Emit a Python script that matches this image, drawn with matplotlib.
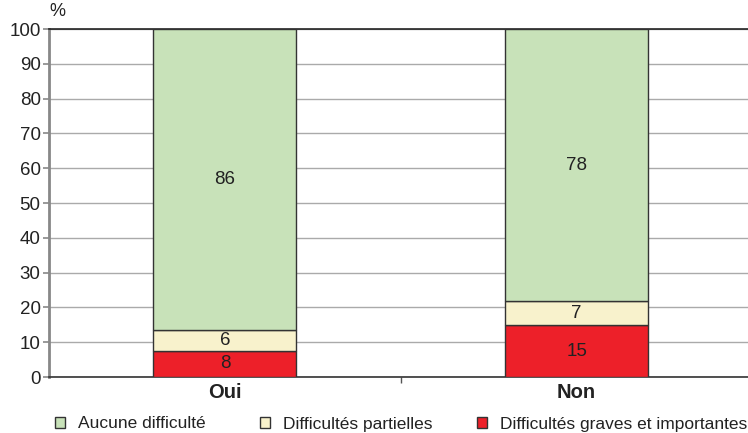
import matplotlib.pyplot as plt
from matplotlib.patches import Patch
import numpy as np

plt.rcParams['font.family'] = ['Liberation Sans', 'DejaVu Sans']

# data
categories = ['Oui', 'Non']
series_names = ['Aucune difficulté', 'Difficultés partielles', 'Difficultés graves et importantes']
graves = [7.5, 14.8]
partielles = [6.0, 7.0]
aucune = [86.5, 78.2]
graves_labels = ['8', '15']
partielles_labels = ['6', '7']
aucune_labels = ['86', '78']

col_green = '#c8e2b9'
col_yellow = '#f8f2cc'
col_red = '#ed2029'
edge = '#333333'

fig = plt.figure(figsize=(7.48, 4.33), dpi=100)
ax = fig.add_axes([49 / 748, 1 - 377 / 433, (752.5 - 49) / 748, 348 / 433])

x = np.arange(len(categories))
w = 0.406
b1 = ax.bar(x, graves, w, color=col_red, edgecolor=edge, linewidth=1.0, zorder=3)
b2 = ax.bar(x, partielles, w, bottom=graves, color=col_yellow, edgecolor=edge, linewidth=1.0, zorder=3)
bottom3 = np.array(graves) + np.array(partielles)
b3 = ax.bar(x, aucune, w, bottom=bottom3, color=col_green, edgecolor=edge, linewidth=1.0, zorder=3)

for bars, labels in [(b1, graves_labels), (b2, partielles_labels), (b3, aucune_labels)]:
    for rect, lab in zip(bars, labels):
        cy = rect.get_y() + rect.get_height() / 2
        ax.text(rect.get_x() + rect.get_width() / 2, cy, lab, ha='center', va='center',
                fontsize=13.5, color='#222222', zorder=4)

ax.set_xlim(-0.5, 1.5)
ax.set_ylim(0, 100)
ax.set_yticks(range(0, 101, 10))
ax.tick_params(axis='y', labelsize=13.5, length=4, width=1.2, color='#888888', pad=2,
               labelcolor='#222222')
ax.set_xticks([0.5])
ax.set_xticklabels([])
ax.tick_params(axis='x', length=4, width=1, color='#555555')
for i, c in enumerate(categories):
    ax.text(i, -1.8, c, ha='center', va='top', fontsize=14.5, fontweight='bold',
            color='#222222', transform=ax.transData)

ax.grid(axis='y', color='#aaaaaa', linewidth=1.0, zorder=0)
ax.spines['right'].set_visible(False)
ax.spines['top'].set_color('#222222')
ax.spines['top'].set_linewidth(1.2)
ax.spines['left'].set_color('#888888')
ax.spines['left'].set_linewidth(2.0)
ax.spines['bottom'].set_color('#333333')
ax.spines['bottom'].set_linewidth(1.2)

ax.text(0.0, 1.025, '%', transform=ax.transAxes, ha='left', va='bottom', fontsize=13, color='#222222')

# one legend per entry so each sits where the reference has it
colors = [col_green, col_yellow, col_red]
legend_x = [55, 260, 477]
for name, c, lx in zip(series_names, colors, legend_x):
    leg = fig.legend([Patch(facecolor=c, edgecolor=edge, linewidth=1.0)], [name],
                     loc='center left', bbox_to_anchor=(lx / 748, 1 - 424 / 433),
                     frameon=False, fontsize=12.5, handlelength=0.6, handleheight=0.6,
                     handletextpad=0.7, borderpad=0, borderaxespad=0)
    for t in leg.get_texts():
        t.set_color('#222222')

fig.savefig('out.png', dpi=100)
